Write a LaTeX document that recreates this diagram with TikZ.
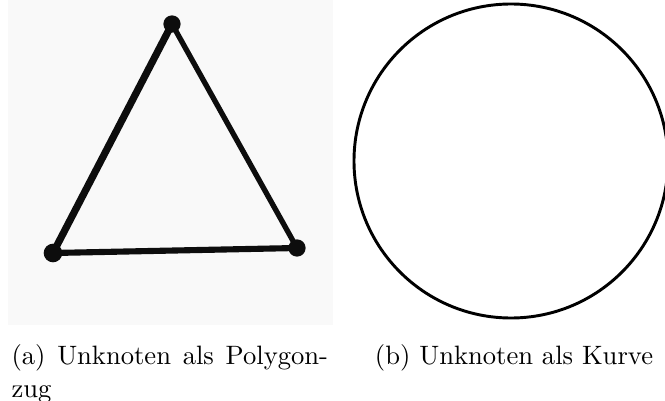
\documentclass[tikz,border=0pt]{standalone}
\begin{document}
\begin{tikzpicture}[x=0.37594pt,y=-0.37594pt,
  ink/.style={draw=black!95, line cap=round, line join=round},
  vertexdot/.style={circle, fill=black!95, inner sep=0pt, minimum size=#1},
  captiontext/.style={inner sep=0pt, font=\normalsize}]
\useasboundingbox (0,0) rectangle (665,401);
% photo background of panel (a)
\fill[black!2.5] (8,0) rectangle (333,325);
% triangle vertices
\node[vertexdot=6.5pt] (top) at (172,24) {};
\node[vertexdot=7pt] (bl) at (53,253) {};
\node[vertexdot=6.5pt] (br) at (297,248) {};
\draw[ink, line width=2.7pt] (top.center) -- (bl.center);
\draw[ink, line width=2.0pt] (top.center) -- (br.center);
\draw[ink, line width=2.3pt] (bl.center) -- (br.center);
% circle panel (b)
\node[draw=black, line width=1.1pt, circle, inner sep=0pt, minimum size=314*0.37594pt] (curve) at (511,161) {};
% captions
\node[captiontext, anchor=base west] (capa) at (11,364) {\makebox[119pt][s]{(a) Unknoten als Polygon-}};
\node[captiontext, anchor=base west] (capa2) at (11,397) {zug};
\node[captiontext, anchor=base] (capb) at (514,364) {(b) Unknoten als Kurve};
\end{tikzpicture}
\end{document}
